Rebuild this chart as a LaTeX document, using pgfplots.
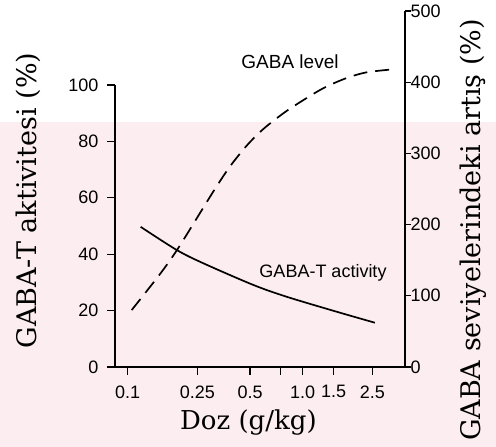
\documentclass[border=0pt]{standalone}
\usepackage{fontspec}
\setmainfont{Liberation Serif}
\setsansfont{Liberation Sans}
\newfontfamily\titlefont{DejaVu Serif}
\usepackage{pgfplots}
\pgfplotsset{compat=1.18}
\definecolor{wmpink}{RGB}{252,237,240}
\begin{document}
\begin{tikzpicture}
\path[use as bounding box] (0pt,0pt) rectangle (496pt,447pt);
\fill[wmpink] (0pt,0pt) rectangle (496pt,325pt);
\begin{axis}[
  at={(115pt,80pt)}, anchor=south west, scale only axis,
  width=290pt, height=282pt,
  xmode=log, xmin=0.0846, xmax=3.842, ymin=0, ymax=100,
  axis x line=bottom, axis y line=left,
  axis line style={-, line width=1.5pt},
  tick align=outside, major tick length=8pt,
  tick style={line width=1.3pt, black},
  xtick={0.1,0.25,0.5,0.75,1,1.5,2.5},
  xticklabels={0.1,0.25,0.5,,1.0,1.5,2.5},
  minor xtick={},
  ytick={0,20,40,60,80,100},
  /pgf/number format/assume math mode=true,
  tick label style={font=\sffamily\fontsize{18}{20}\selectfont},
  xticklabel style={yshift=-7pt},
  yticklabel style={xshift=-5pt},
  xlabel={Doz (g/kg)},
  xlabel style={at={(axis description cs:0.46,0)}, anchor=center, yshift=-56pt, font=\titlefont\fontsize{26}{28}\selectfont},
  ylabel={GABA-T aktivitesi (\%)},
  ylabel style={at={(axis description cs:-0.30,0.59)}, anchor=center, rotate=0, font=\titlefont\fontsize{27}{29}\selectfont},
  clip=false,
]
\addplot[black, line width=1.7pt, smooth] coordinates {
  (0.1186,49.7) (0.1905,41.5) (0.270,36.8) (0.522,29.1) (0.81,24.9) (1.563,19.6) (2.586,15.7)
};
\node[font=\sffamily\fontsize{18}{20}\selectfont] at (axis cs:1.306,33.3) {GABA-T activity};
\end{axis}
\begin{axis}[
  at={(115pt,80pt)}, anchor=south west, scale only axis,
  width=290pt, height=356pt,
  xmode=log, xmin=0.0846, xmax=3.842, ymin=0, ymax=500,
  axis x line=none, axis y line=right,
  axis line style={-, line width=1.5pt},
  tick align=outside, major tick length=6pt,
  tick style={line width=1.3pt, black},
  ytick={0,100,200,300,400,500},
  /pgf/number format/assume math mode=true,
  tick label style={font=\sffamily\fontsize{18}{20}\selectfont},
  yticklabel style={xshift=-4pt},
  ylabel={GABA seviyelerindeki artış (\%)},
  ylabel style={at={(axis description cs:1.235,0.385)}, anchor=center, rotate=0, font=\titlefont\fontsize{27}{29}\selectfont},
  clip=false,
]
\addplot[black, line width=1.7pt, smooth, dash pattern=on 14pt off 8pt] coordinates {
  (0.1054,80) (0.153,130.6) (0.1913,164.3) (0.259,216.3) (0.315,250) (0.384,281.6) (0.479,311) (0.596,334.3) (0.792,358) (1.054,377.8) (1.341,392.8) (1.784,405.9) (2.32,413.9) (3.294,418.1)
};
\node[font=\sffamily\fontsize{19}{21}\selectfont] at (axis cs:0.846,428.8) {GABA level};
\end{axis}
\end{tikzpicture}
\end{document}
